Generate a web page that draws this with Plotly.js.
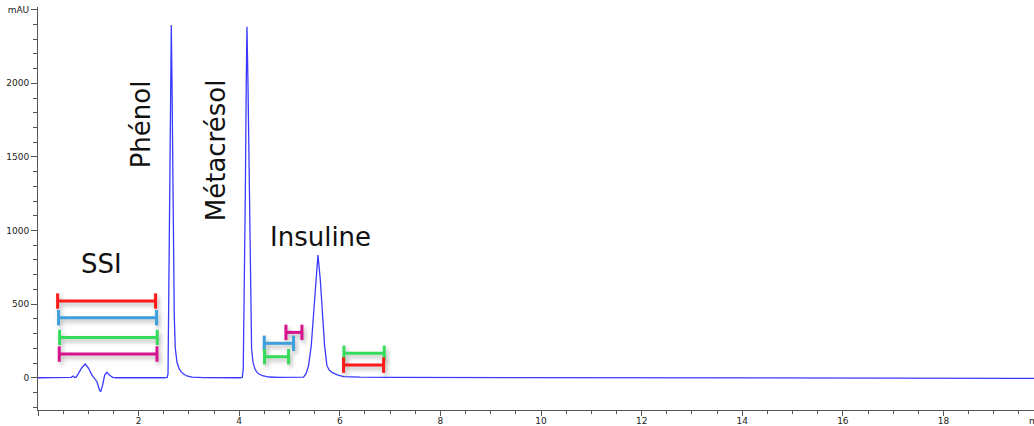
<!DOCTYPE html>
<html>
<head>
<meta charset="utf-8">
<script src="https://cdn.plot.ly/plotly-3.0.1.min.js"></script>
<style>
  html, body { margin: 0; padding: 0; background: #ffffff; }
  #chart { width: 1034px; height: 426px; }
</style>
</head>
<body>
<div id="chart"></div>
<script>
// ---- Chromatogram (retention time in min, absorbance in mAU) ----
const timeMin = [
  0.00, 0.60, 0.66, 0.70, 0.73, 0.76, 0.807, 0.874, 0.940, 1.006, 1.073, 1.125, 1.172, 1.218, 1.245, 1.285, 1.325, 1.372, 1.417, 1.484, 1.55,
  2.50, 2.57, 2.585, 2.596, 2.610, 2.623, 2.636, 2.650, 2.664, 2.684, 2.697, 2.709, 2.729, 2.763, 2.808, 2.85, 2.894, 2.96, 3.06, 3.30,
  4.00, 4.061, 4.080, 4.095, 4.108, 4.120, 4.140, 4.154, 4.174, 4.200, 4.213, 4.226, 4.246, 4.274, 4.313, 4.35, 4.393, 4.46, 4.592, 4.80,
  5.10, 5.279, 5.33, 5.379, 5.432, 5.478, 5.518, 5.565, 5.611, 5.657, 5.697, 5.744, 5.79, 5.844, 5.95, 6.074, 6.40, 7.00,
  10.0, 14.0, 18.0, 19.8
];
const absorbance = [
  0, 0, 3, 12, 2, 4, 30, 70, 93, 64, 18, -4, -27, -79, -95, -50, 18, 37, 18, 3, 0,
  0, 2, 30, 420, 800, 1200, 2000, 2395, 2000, 1200, 800, 420, 200, 105, 60, 38, 25, 12, 4, 1,
  0, 2, 60, 420, 800, 1200, 2000, 2383, 2000, 1200, 800, 420, 197, 104, 59, 38, 25, 14, 5, 3,
  3, 4, 30, 82, 218, 444, 671, 834, 671, 444, 218, 82, 52, 36, 20, 8, 4, 2,
  0, -2, -4, -4
];

// ---- Peak labels ----
const peakNames = ["SSI", "Phénol", "Métacrésol", "Insuline"];

// ---- Integration / range bars: start time, end time, level (mAU) ----
const barStart = [0.390, 0.409, 0.429, 0.423, 4.929, 4.498, 4.504, 6.082, 6.074];
const barEnd   = [2.337, 2.357, 2.371, 2.365, 5.247, 5.080, 4.981, 6.883, 6.870];
const barLevel = [521, 408, 274, 161, 308, 234, 143, 166, 86];

// ---- styling (kept separate from data) ----
const barColors = ["#ff1a1a", "#3d9fdc", "#35dc5c", "#d6138c", "#d6138c", "#3d9fdc", "#35dc5c", "#35dc5c", "#ff1a1a"];
const labelPos = [
  {x: 1.258, y: 772, angle: 0},
  {x: 2.053, y: 1723, angle: -90},
  {x: 3.544, y: 1547, angle: -90},
  {x: 5.611, y: 956, angle: 0}
];

const traces = [{
  type: "scatter", mode: "lines",
  x: timeMin, y: absorbance,
  line: {color: "#3a3aff", width: 1.3},
  hoverinfo: "skip", showlegend: false
}];

for (let i = 0; i < barStart.length; i++) {
  traces.push({
    type: "scatter", mode: "lines+markers",
    x: [barStart[i], barEnd[i]], y: [barLevel[i], barLevel[i]],
    line: {color: barColors[i], width: 3},
    marker: {symbol: "line-ns-open", size: 11, line: {color: barColors[i], width: 3}},
    hoverinfo: "skip", showlegend: false, cliponaxis: false
  });
}

const annotations = peakNames.map((name, i) => ({
  text: name, x: labelPos[i].x, y: labelPos[i].y, xref: "x", yref: "y",
  showarrow: false, textangle: labelPos[i].angle,
  font: {family: "DejaVu Sans", size: 26, color: "#111111"},
  xanchor: "center", yanchor: "middle"
}));
annotations.push({
  text: "min", xref: "paper", yref: "paper", x: 0.993, y: -0.028,
  xanchor: "left", yanchor: "middle", showarrow: false,
  font: {family: "DejaVu Sans", size: 9, color: "#222222"}
});

const tickFont = {family: "DejaVu Sans", size: 9, color: "#222222"};
const layout = {
  width: 1034, height: 426,
  margin: {l: 38, r: 0, t: 7, b: 16},
  paper_bgcolor: "#ffffff", plot_bgcolor: "#ffffff",
  showlegend: false,
  xaxis: {
    range: [0, 19.80], showgrid: false, zeroline: false,
    showline: true, linecolor: "#555555", linewidth: 1,
    tickmode: "linear", tick0: 0, dtick: 2,
    ticks: "outside", ticklen: 5, tickcolor: "#555555",
    tickfont: tickFont, labelalias: {"0": ""}, ticklabelstandoff: -3,
    minor: {tickmode: "linear", tick0: 0, dtick: 0.5, ticks: "outside", ticklen: 3, tickcolor: "#555555", showgrid: false}
  },
  yaxis: {
    range: [-219, 2518], showgrid: false, zeroline: false,
    showline: true, linecolor: "#555555", linewidth: 1,
    tickmode: "linear", tick0: 0, dtick: 500,
    ticks: "outside", ticklen: 6, tickcolor: "#555555",
    tickfont: tickFont, labelalias: {"2500": "mAU"},
    minor: {tickmode: "linear", tick0: 0, dtick: 100, ticks: "outside", ticklen: 4, tickcolor: "#555555", showgrid: false}
  },
  annotations: annotations
};

Plotly.newPlot("chart", traces, layout, {displayModeBar: false, staticPlot: true}).then(() => {
  document.querySelectorAll(".scatterlayer .trace").forEach((g, i) => {
    if (i > 0) g.style.filter = "drop-shadow(2px 3px 2px rgba(0,0,0,0.28))";
  });
});
</script>
</body>
</html>
